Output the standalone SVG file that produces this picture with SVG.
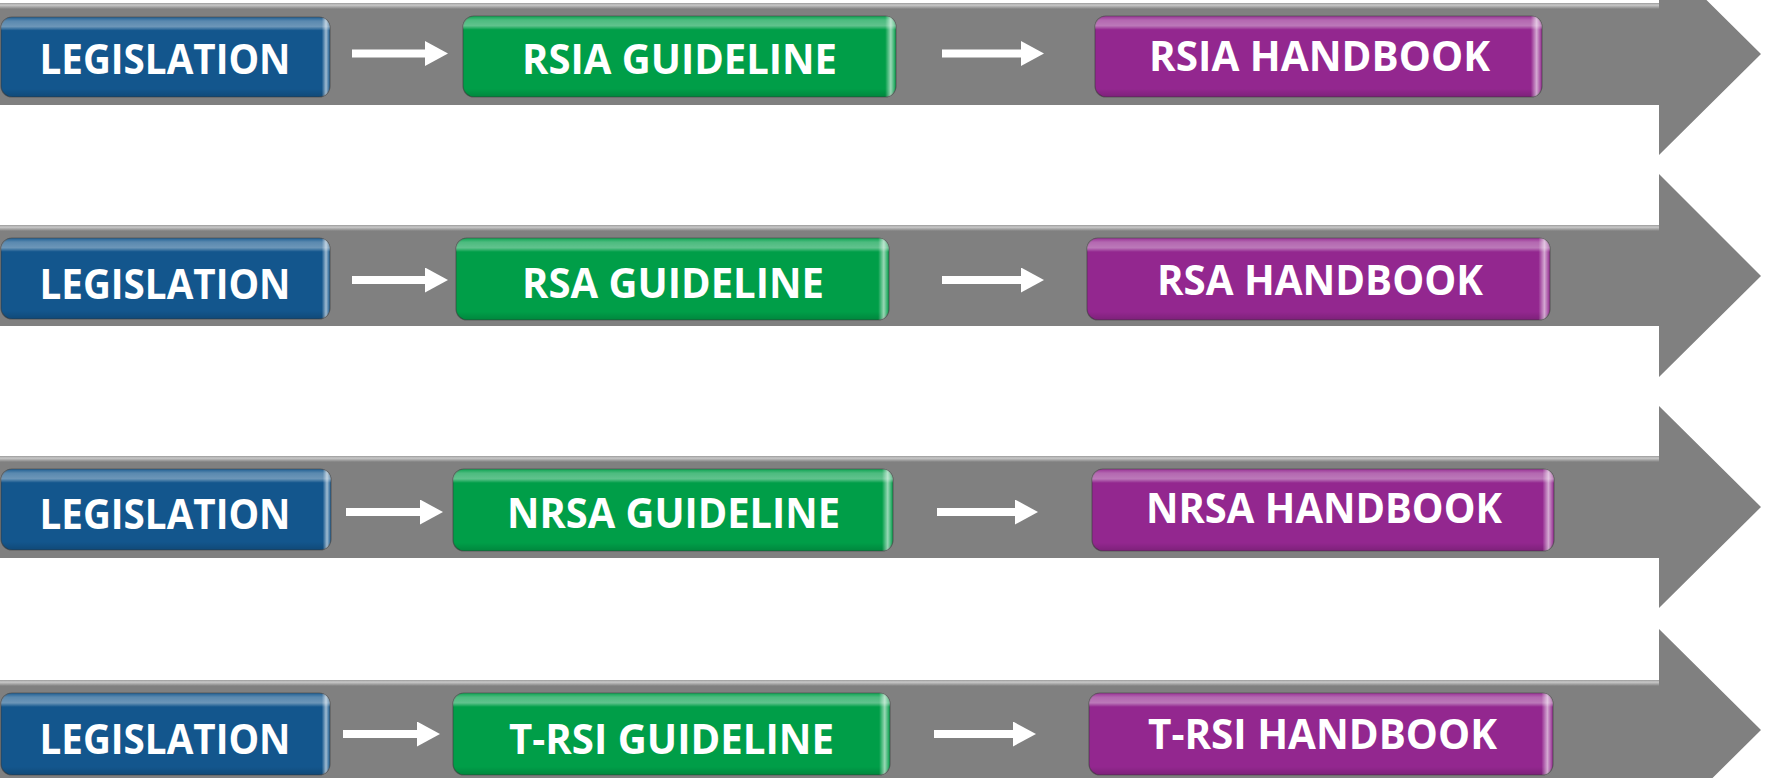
<svg xmlns="http://www.w3.org/2000/svg" width="1767" height="778" viewBox="0 0 1767 778">
<defs>
<style>
.band{fill:#808080}
.bandhl{fill:url(#bandTop)}
.box{stroke:#3a3a3a;stroke-opacity:0.55;stroke-width:1.2}
.blue{fill:#13568d}
.green{fill:#009e48}
.purple{fill:#93278f}
.gloss{fill:url(#gloss)}
.edge{fill:url(#edge)}
.lbl{font-family:"Open Sans","Noto Sans","Liberation Sans",sans-serif;font-weight:700;font-size:42px;fill:#ffffff;text-anchor:middle}
.conn{stroke:#ffffff;stroke-width:8;fill:none;marker-end:url(#ah)}
</style>
<linearGradient id="bandTop" x1="0" y1="0" x2="0" y2="1">
<stop offset="0" stop-color="#9a9a9a"/>
<stop offset="0.35" stop-color="#c9c9c9"/>
<stop offset="1" stop-color="#808080"/>
</linearGradient>
<linearGradient id="gloss" x1="0" y1="0" x2="0" y2="1">
<stop offset="0" stop-color="#ffffff" stop-opacity="0.05"/>
<stop offset="0.05" stop-color="#ffffff" stop-opacity="0.3"/>
<stop offset="0.12" stop-color="#ffffff" stop-opacity="0.38"/>
<stop offset="0.17" stop-color="#ffffff" stop-opacity="0"/>
<stop offset="0.9" stop-color="#000000" stop-opacity="0"/>
<stop offset="1" stop-color="#000000" stop-opacity="0.15"/>
</linearGradient>
<linearGradient id="edge" x1="0" y1="0" x2="1" y2="0">
<stop offset="0" stop-color="#ffffff" stop-opacity="0"/>
<stop offset="0.975" stop-color="#ffffff" stop-opacity="0"/>
<stop offset="0.988" stop-color="#ffffff" stop-opacity="0.6"/>
<stop offset="1" stop-color="#ffffff" stop-opacity="0"/>
</linearGradient>
<marker id="ah" markerUnits="userSpaceOnUse" markerWidth="24" markerHeight="25" refX="0" refY="12.5" orient="auto">
<path d="M0,0 L23,12.5 L0,25 Z" fill="#ffffff"/>
</marker>
</defs>

<g id="bands">
<polygon class="band" points="0,3 1659,3 1659,-47 1761,54 1659,155 1659,105 0,105"/>
<rect class="bandhl" x="0" y="3" width="1659" height="6"/>
<polygon class="band" points="0,225 1659,225 1659,174 1761,276 1659,377 1659,326 0,326"/>
<rect class="bandhl" x="0" y="225" width="1659" height="6"/>
<polygon class="band" points="0,456 1659,456 1659,406 1761,507 1659,608 1659,558 0,558"/>
<rect class="bandhl" x="0" y="456" width="1659" height="6"/>
<polygon class="band" points="0,680 1659,680 1659,629 1761,730 1659,831 1659,782 0,782"/>
<rect class="bandhl" x="0" y="680" width="1659" height="6"/>
</g>

<g id="connectors">
<line class="conn" x1="352" y1="53.5" x2="425" y2="53.5"/>
<line class="conn" x1="942" y1="53.5" x2="1021" y2="53.5"/>
<line class="conn" x1="352" y1="280" x2="425" y2="280"/>
<line class="conn" x1="942" y1="280" x2="1021" y2="280"/>
<line class="conn" x1="346" y1="512" x2="420" y2="512"/>
<line class="conn" x1="937" y1="512" x2="1015" y2="512"/>
<line class="conn" x1="343" y1="734" x2="417" y2="734"/>
<line class="conn" x1="934" y1="734" x2="1013" y2="734"/>
</g>

<g id="leg1">
<rect class="box blue" x="1" y="17" width="329" height="80" rx="11"/>
<rect class="gloss" x="1" y="17" width="329" height="80" rx="11"/>
<rect class="edge" x="1" y="17" width="329" height="80" rx="11"/>
<text class="lbl" x="165" y="74" textLength="251" lengthAdjust="spacingAndGlyphs">LEGISLATION</text>
</g>
<g id="guide1">
<rect class="box green" x="463" y="16" width="433" height="81" rx="11"/>
<rect class="gloss" x="463" y="16" width="433" height="81" rx="11"/>
<rect class="edge" x="463" y="16" width="433" height="81" rx="11"/>
<text class="lbl" x="679.5" y="74" textLength="315" lengthAdjust="spacingAndGlyphs">RSIA GUIDELINE</text>
</g>
<g id="hb1">
<rect class="box purple" x="1095" y="16" width="447" height="81" rx="11"/>
<rect class="gloss" x="1095" y="16" width="447" height="81" rx="11"/>
<rect class="edge" x="1095" y="16" width="447" height="81" rx="11"/>
<text class="lbl" x="1319.5" y="71" textLength="341" lengthAdjust="spacingAndGlyphs">RSIA HANDBOOK</text>
</g>

<g id="leg2">
<rect class="box blue" x="1" y="238" width="329" height="81" rx="11"/>
<rect class="gloss" x="1" y="238" width="329" height="81" rx="11"/>
<rect class="edge" x="1" y="238" width="329" height="81" rx="11"/>
<text class="lbl" x="165" y="299" textLength="251" lengthAdjust="spacingAndGlyphs">LEGISLATION</text>
</g>
<g id="guide2">
<rect class="box green" x="456" y="238" width="433" height="82" rx="11"/>
<rect class="gloss" x="456" y="238" width="433" height="82" rx="11"/>
<rect class="edge" x="456" y="238" width="433" height="82" rx="11"/>
<text class="lbl" x="673" y="298" textLength="302" lengthAdjust="spacingAndGlyphs">RSA GUIDELINE</text>
</g>
<g id="hb2">
<rect class="box purple" x="1087" y="238" width="463" height="82" rx="11"/>
<rect class="gloss" x="1087" y="238" width="463" height="82" rx="11"/>
<rect class="edge" x="1087" y="238" width="463" height="82" rx="11"/>
<text class="lbl" x="1320" y="295" textLength="326" lengthAdjust="spacingAndGlyphs">RSA HANDBOOK</text>
</g>

<g id="leg3">
<rect class="box blue" x="1" y="469" width="330" height="81" rx="11"/>
<rect class="gloss" x="1" y="469" width="330" height="81" rx="11"/>
<rect class="edge" x="1" y="469" width="330" height="81" rx="11"/>
<text class="lbl" x="165" y="529" textLength="251" lengthAdjust="spacingAndGlyphs">LEGISLATION</text>
</g>
<g id="guide3">
<rect class="box green" x="453" y="469" width="440" height="82" rx="11"/>
<rect class="gloss" x="453" y="469" width="440" height="82" rx="11"/>
<rect class="edge" x="453" y="469" width="440" height="82" rx="11"/>
<text class="lbl" x="673.5" y="528" textLength="333" lengthAdjust="spacingAndGlyphs">NRSA GUIDELINE</text>
</g>
<g id="hb3">
<rect class="box purple" x="1092" y="469" width="462" height="82" rx="11"/>
<rect class="gloss" x="1092" y="469" width="462" height="82" rx="11"/>
<rect class="edge" x="1092" y="469" width="462" height="82" rx="11"/>
<text class="lbl" x="1324" y="523" textLength="356" lengthAdjust="spacingAndGlyphs">NRSA HANDBOOK</text>
</g>

<g id="leg4">
<rect class="box blue" x="1" y="693" width="329" height="82" rx="11"/>
<rect class="gloss" x="1" y="693" width="329" height="82" rx="11"/>
<rect class="edge" x="1" y="693" width="329" height="82" rx="11"/>
<text class="lbl" x="165" y="754" textLength="251" lengthAdjust="spacingAndGlyphs">LEGISLATION</text>
</g>
<g id="guide4">
<rect class="box green" x="453" y="693" width="437" height="82" rx="11"/>
<rect class="gloss" x="453" y="693" width="437" height="82" rx="11"/>
<rect class="edge" x="453" y="693" width="437" height="82" rx="11"/>
<text class="lbl" x="671.5" y="754" textLength="325" lengthAdjust="spacingAndGlyphs">T-RSI GUIDELINE</text>
</g>
<g id="hb4">
<rect class="box purple" x="1089" y="693" width="464" height="82" rx="11"/>
<rect class="gloss" x="1089" y="693" width="464" height="82" rx="11"/>
<rect class="edge" x="1089" y="693" width="464" height="82" rx="11"/>
<text class="lbl" x="1322.5" y="749" textLength="349" lengthAdjust="spacingAndGlyphs">T-RSI HANDBOOK</text>
</g>
</svg>
